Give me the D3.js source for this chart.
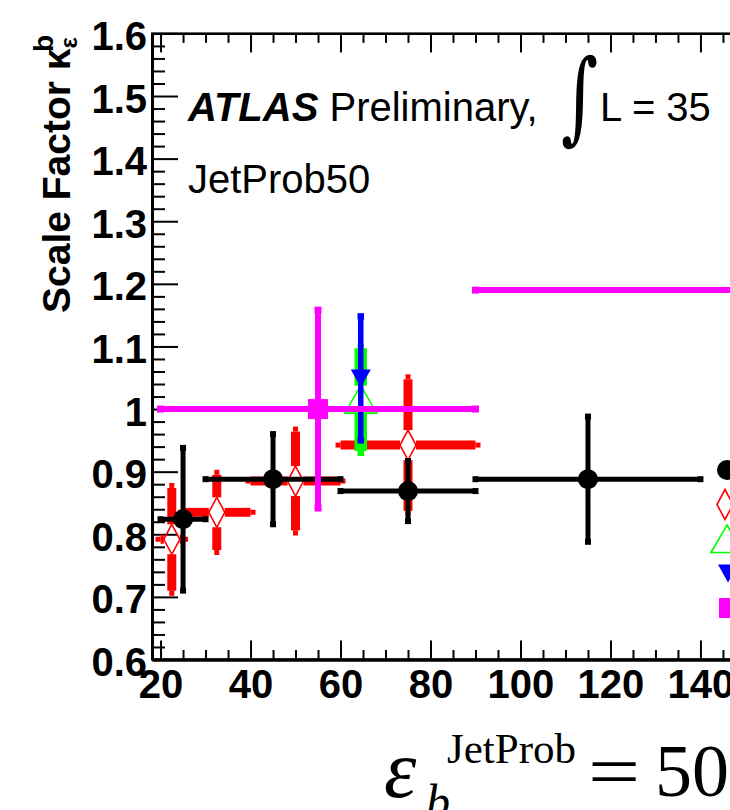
<!DOCTYPE html>
<html><head><meta charset="utf-8">
<script src="https://cdn.jsdelivr.net/npm/d3@7/dist/d3.min.js"></script>
<style>
html,body{margin:0;padding:0;background:#fff;overflow:hidden;}
svg{display:block;}
</style></head>
<body>
<svg id="c" width="730" height="810"></svg>
<script>
// ---------- data ----------
const xTicks = [20, 40, 60, 80, 100, 120, 140, 160, 180, 200];
const xTickLabels = ["20","40","60","80","100","120","140","","",""];
const yTicks = [0.6, 0.7, 0.8, 0.9, 1.0, 1.1, 1.2, 1.3, 1.4, 1.5, 1.6];
const yTickLabels = ["0.6","0.7","0.8","0.9","1","1.1","1.2","1.3","1.4","1.5","1.6"];

// black filled circles
const blackX   = [25, 45, 75, 115];
const blackXLo = [20, 30, 60, 90];
const blackXHi = [30, 60, 90, 140];
const blackY   = [0.824, 0.888, 0.869, 0.888];
const blackErr = [0.114, 0.072, 0.048, 0.100];
// red open diamonds (thick bars)
const redX   = [22.5, 32.5, 50, 75];
const redXLo = [20, 25, 40, 60];
const redXHi = [25, 40, 60, 90];
const redY   = [0.792, 0.835, 0.885, 0.9425];
const redErr = [0.082, 0.060, 0.079, 0.105];
// green open triangle
const greenX = [64.5];
const greenY = [1.015];
const greenErr = [0.082];
// blue filled triangle down
const blueX = [64.5];
const blueY = [1.049];
const blueErr = [0.099];
// magenta filled squares
const magX   = [55, 150];
const magXLo = [20, 90];
const magXHi = [90, 210];
const magY   = [1.0, 1.19];
const magErr = [0.158, 0.2];

// ---------- layout ----------
const L = 152, R = 1019, T = 33.4, B = 659.5;
const svg = d3.select("#c");
const x = d3.scaleLinear().domain([18.1, 210.8]).range([L, R]);
const y = d3.scaleLinear().domain([0.6, 1.6]).range([B, T]);

const FONT = "'Liberation Sans', Arial, Helvetica, sans-serif";
const SERIF = "'Liberation Serif', 'Times New Roman', serif";

// ---------- axes ----------
const xMinor = d3.range(20, 211, 5).filter(v => v % 20 !== 0);
const yMinor = d3.range(0, 51).map(i => +(0.6 + i * 0.02).toFixed(2)).filter(v => Math.abs(v*10 - Math.round(v*10)) > 1e-6);

function styleAxis(g, w) {
  g.selectAll("path.domain").attr("stroke", "#000").attr("stroke-width", w);
  g.selectAll(".tick line").attr("stroke", "#000").attr("stroke-width", 2);
}

const gxb = svg.append("g").attr("transform", `translate(0,${B})`)
  .call(d3.axisBottom(x).tickValues(xTicks).tickSizeInner(-19).tickSizeOuter(0).tickPadding(10)
    .tickFormat((d, i) => xTickLabels[i]));
styleAxis(gxb, 3);
gxb.selectAll("text").attr("font-family", FONT).attr("font-size", 40).attr("font-weight", "bold").attr("fill", "#000");
const gxbm = svg.append("g").attr("transform", `translate(0,${B})`)
  .call(d3.axisBottom(x).tickValues(xMinor).tickSizeInner(-9.5).tickSizeOuter(0).tickFormat(""));
styleAxis(gxbm, 3);
const gxt = svg.append("g").attr("transform", `translate(0,${T})`)
  .call(d3.axisTop(x).tickValues(xTicks).tickSizeInner(-19).tickSizeOuter(0).tickFormat(""));
styleAxis(gxt, 2);
const gxtm = svg.append("g").attr("transform", `translate(0,${T})`)
  .call(d3.axisTop(x).tickValues(xMinor).tickSizeInner(-9.5).tickSizeOuter(0).tickFormat(""));
styleAxis(gxtm, 2);
const gyl = svg.append("g").attr("transform", `translate(${L},0)`)
  .call(d3.axisLeft(y).tickValues(yTicks).tickSizeInner(-26).tickSizeOuter(0).tickPadding(5)
    .tickFormat((d, i) => yTickLabels[i]));
styleAxis(gyl, 3);
gyl.selectAll("text").attr("font-family", FONT).attr("font-size", 40).attr("font-weight", "bold")
  .attr("fill", "#000").attr("dy", "0.40em");
const gylm = svg.append("g").attr("transform", `translate(${L},0)`)
  .call(d3.axisLeft(y).tickValues(yMinor).tickSizeInner(-13).tickSizeOuter(0).tickFormat(""));
styleAxis(gylm, 3);
const gyr = svg.append("g").attr("transform", `translate(${R},0)`)
  .call(d3.axisRight(y).tickValues(yTicks).tickSizeInner(-26).tickSizeOuter(0).tickFormat(""));
styleAxis(gyr, 2);

// ---------- error bar helpers ----------
const plot = svg.append("g");
function seg(g, x1, y1, x2, y2, color, w) {
  g.append("line").attr("x1", x1).attr("y1", y1).attr("x2", x2).attr("y2", y2)
    .attr("stroke", color).attr("stroke-width", w).attr("stroke-linecap", "butt");
}
function capSq(g, cx, cy, s, color) {
  g.append("rect").attr("x", cx - s/2).attr("y", cy - s/2).attr("width", s).attr("height", s).attr("fill", color);
}
function thinBars(g, xs, ys, errs, xlo, xhi, color, w, gapX, gapY) {
  xs.forEach((xv, i) => {
    const cx = x(xv), cy = y(ys[i]);
    const yt = y(ys[i] + errs[i]), yb = y(ys[i] - errs[i]);
    if (xlo) {
      const xl = x(xlo[i]), xr = x(xhi[i]);
      seg(g, xl, cy, cx - gapX, cy, color, w);
      seg(g, cx + gapX, cy, xr, cy, color, w);
      capSq(g, xl, cy, w + 1, color); capSq(g, xr, cy, w + 1, color);
    }
    seg(g, cx, yt, cx, cy - gapY, color, w);
    seg(g, cx, cy + gapY, cx, yb, color, w);
    capSq(g, cx, yt, w + 1, color); capSq(g, cx, yb, w + 1, color);
  });
}
function thickBars(g, xs, ys, errs, xlo, xhi, color, w, sw, stub, gapX, gapY) {
  xs.forEach((xv, i) => {
    const cx = x(xv), cy = y(ys[i]);
    const yt = y(ys[i] + errs[i]), yb = y(ys[i] - errs[i]);
    if (xlo) {
      const xl = x(xlo[i]), xr = x(xhi[i]);
      seg(g, xl, cy, cx - gapX, cy, color, w);
      seg(g, cx + gapX, cy, xr, cy, color, w);
      seg(g, xl - stub, cy, xl, cy, color, sw);
      seg(g, xr, cy, xr + stub, cy, color, sw);
    }
    seg(g, cx, yt, cx, cy - gapY, color, w);
    seg(g, cx, cy + gapY, cx, yb, color, w);
    seg(g, cx, yt - stub, cx, yt, color, sw);
    seg(g, cx, yb, cx, yb + stub, color, sw);
  });
}

function diamond(g, cx, cy, color) {
  g.append("path").attr("d", `M${cx},${cy-15}L${cx+8},${cy}L${cx},${cy+15}L${cx-8},${cy}Z`)
    .attr("fill", "none").attr("stroke", color).attr("stroke-width", 1.6);
}
function triUp(g, cx, cy, color) {
  g.append("path").attr("d", `M${cx},${cy-14}L${cx+16},${cy+13.5}L${cx-16},${cy+13.5}Z`)
    .attr("fill", "none").attr("stroke", color).attr("stroke-width", 1.6);
}
function triDown(g, cx, cy, color) {
  g.append("path").attr("d", `M${cx-10},${cy-9}L${cx+10},${cy-9}L${cx},${cy+9}Z`).attr("fill", color);
}
function circle(g, cx, cy, color) {
  g.append("circle").attr("cx", cx).attr("cy", cy).attr("r", 10).attr("fill", color);
}
function square(g, cx, cy, color) {
  g.append("rect").attr("x", cx - 10).attr("y", cy - 10).attr("width", 20).attr("height", 20).attr("fill", color);
}

const clip = svg.append("defs").append("clipPath").attr("id", "pc");
clip.append("rect").attr("x", L).attr("y", T).attr("width", R - L).attr("height", B - T);
plot.attr("clip-path", "url(#pc)");

const gRed = plot.append("g");
thickBars(gRed, redX, redY, redErr, redXLo, redXHi, "#ff0000", 9, 5, 5, 8, 15);
redX.forEach((v, i) => diamond(gRed, x(v), y(redY[i]), "#ff0000"));
const gBlack = plot.append("g");
thinBars(gBlack, blackX, blackY, blackErr, blackXLo, blackXHi, "#000", 5, 0, 0);
blackX.forEach((v, i) => circle(gBlack, x(v), y(blackY[i]), "#000"));
const gGreen = plot.append("g");
thickBars(gGreen, greenX, greenY, greenErr, null, null, "#00ff00", 12.5, 6.5, 5, 16, 14);
greenX.forEach((v, i) => triUp(gGreen, x(v), y(greenY[i]), "#00ff00"));
const gBlue = plot.append("g");
thinBars(gBlue, blueX, blueY, blueErr, null, null, "#0000ff", 5.5, 0, 0);
blueX.forEach((v, i) => triDown(gBlue, x(v), y(blueY[i]), "#0000ff"));
const gMag = plot.append("g");
thinBars(gMag, magX, magY, magErr, magXLo, magXHi, "#ff00ff", 6, 0, 0);
magX.forEach((v, i) => square(gMag, x(v), y(magY[i]), "#ff00ff"));

svg.append("rect").attr("x", L).attr("y", T).attr("width", R - L).attr("height", B - T)
  .attr("fill", "none").attr("stroke", "#000").attr("stroke-width", 2);

// ---------- legend markers ----------
const legX = 727, legY0 = 470, legDY = 34.5;
const legG = svg.append("g");
circle(legG, legX, legY0, "#000");
diamond(legG, legX - 2, legY0 + legDY, "#ff0000");
triUp(legG, legX, legY0 + 2 * legDY, "#00ff00");
triDown(legG, legX + 1, legY0 + 3 * legDY, "#0000ff");
square(legG, legX + 2, legY0 + 4 * legDY, "#ff00ff");

// ---------- texts ----------
const t1 = svg.append("text").attr("x", 188).attr("y", 121).attr("font-family", FONT).attr("font-size", 40).attr("fill", "#000");
t1.append("tspan").attr("font-weight", "bold").attr("font-style", "italic").text("ATLAS");
t1.append("tspan").text(" Preliminary,");
svg.append("text").attr("transform", "translate(561,131) scale(0.85,1.2)").attr("font-family", "'DejaVu Serif', serif")
  .attr("font-size", 84).attr("fill", "#000").text("∫");
svg.append("text").attr("x", 600).attr("y", 121).attr("font-family", FONT).attr("font-size", 40)
  .attr("fill", "#000").text("L = 35");
svg.append("text").attr("x", 188).attr("y", 193).attr("font-family", FONT).attr("font-size", 40)
  .attr("fill", "#000").text("JetProb50");

// y-axis title
const yt = svg.append("text").attr("transform", "translate(70,313) rotate(-90)")
  .attr("font-family", FONT).attr("font-size", 39).attr("font-weight", "bold").attr("fill", "#000");
yt.append("tspan").text("Scale Factor κ");
yt.append("tspan").attr("font-size", 24).attr("dy", 7).text("ε");
yt.append("tspan").attr("font-size", 28).attr("dx", -15).attr("dy", -24).text("b");

// x-axis title
svg.append("text").attr("x", 384).attr("y", 797).attr("font-family", SERIF).attr("font-style", "italic")
  .attr("font-size", 82).attr("fill", "#000").text("ε");
svg.append("text").attr("x", 447).attr("y", 763).attr("font-family", SERIF)
  .attr("font-size", 43).attr("fill", "#000").text("JetProb");
svg.append("text").attr("x", 426).attr("y", 818).attr("font-family", SERIF).attr("font-style", "italic")
  .attr("font-size", 48).attr("fill", "#000").text("b");
svg.append("text").attr("transform", "translate(588,796) scale(1.25,1)").attr("font-family", SERIF)
  .attr("font-size", 74).attr("fill", "#000").text("=");
svg.append("text").attr("x", 655).attr("y", 796).attr("font-family", SERIF)
  .attr("font-size", 74).attr("fill", "#000").text("50");
</script>
</body></html>
